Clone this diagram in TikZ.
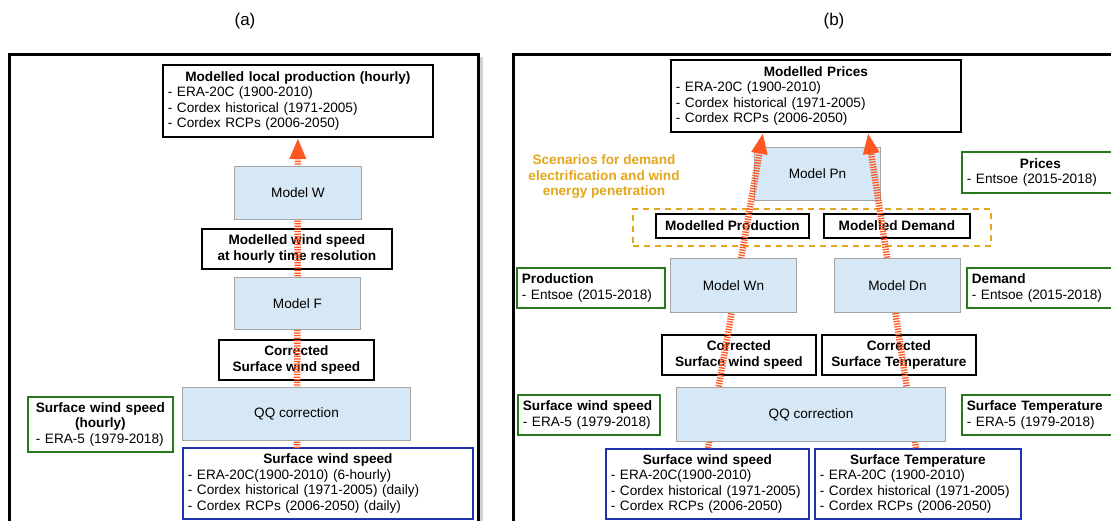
\documentclass[tikz,border=0pt]{standalone}
\usepackage{fontspec}
\setmainfont{Liberation Sans}
\usetikzlibrary{arrows.meta,shadows,calc}
\definecolor{lblue}{RGB}{214,231,245}
\definecolor{bgrey}{RGB}{165,165,165}
\definecolor{dgreen}{RGB}{40,120,30}
\definecolor{dblue}{RGB}{30,50,175}
\definecolor{gold}{RGB}{228,166,28}
\definecolor{flowc}{RGB}{255,87,34}
\newcommand\ttl[2]{\makebox[#1][c]{\bfseries #2}}
\begin{document}
\begin{tikzpicture}[x=1pt,y=-1pt,
 every node/.style={font=\fontsize{13.6}{15.5}\selectfont, inner sep=0pt, anchor=north west},
 frame/.style={draw=black, line width=3pt, fill=white, drop shadow={shadow xshift=4pt, shadow yshift=-3pt, opacity=0.35}},
 model/.style={draw=bgrey, line width=1pt, fill=lblue},
 lab/.style={draw=black, line width=1.8pt, align=center, font=\fontsize{13.6}{15.5}\selectfont\bfseries},
 obs/.style={draw=dgreen, line width=1.8pt, fill=white, align=left, inner xsep=5pt},
 sim/.style={draw=dblue, line width=1.8pt, fill=white, align=left, inner xsep=5pt},
 outb/.style={draw=black, line width=1.8pt, fill=white, align=left, inner xsep=5pt},
 flow/.style={draw=flowc, line width=6.5pt, dash pattern=on 1.3pt off 1.3pt, -{Triangle[length=21pt,width=15pt]}},
 ttlnode/.style={font=\fontsize{17}{20}\selectfont, anchor=center}
]
\useasboundingbox (0,0) rectangle (1111,520);
\fill[white] (0,0) rectangle (1111,520);
% titles
\node[ttlnode] (ta) at (245,21) {(a)};
\node[ttlnode] (tb) at (834,21) {(b)};
% frames
\path[frame] (9.5,54) rectangle (478.5,545);
\path[frame] (513.5,54) rectangle (1140,545);

% ---------- (a) ----------
\node[outb, text width=260pt, minimum height=72pt] (mlp) at (162,64)
 {\ttl{260pt}{Modelled local production (hourly)}\\- ERA-20C (1900-2010)\\- Cordex historical (1971-2005)\\- Cordex RCPs (2006-2050)};
\node[lab, minimum width=190pt, minimum height=40pt] (l1) at (201,228) {Modelled wind speed\\at hourly time resolution};
\node[lab, minimum width=155pt, minimum height=40pt] (l2) at (218,339) {Corrected\\Surface wind speed};
\node[obs, text width=135pt, minimum height=55pt] (oa) at (27,396)
 {\ttl{135pt}{Surface wind speed}\\\ttl{135pt}{(hourly)}\\\hspace*{3pt}- ERA-5 (1979-2018)};
\node[sim, text width=280pt, minimum height=71pt] (sa) at (182,447)
 {\ttl{280pt}{Surface wind speed}\\- ERA-20C(1900-2010) (6-hourly)\\- Cordex historical (1971-2005) (daily)\\- Cordex RCPs (2006-2050) (daily)};

% ---------- (b) ----------
\node[outb, text width=280pt, minimum height=72pt] (mp) at (670,59)
 {\ttl{280pt}{Modelled Prices}\\- ERA-20C (1900-2010)\\- Cordex historical (1971-2005)\\- Cordex RCPs (2006-2050)};
\node[model, minimum width=126pt, minimum height=53pt] (pn) at (754,147) {Model Pn};
\node[anchor=center, align=center, text=gold, font=\fontsize{13.6}{15.5}\selectfont\bfseries] (sc) at (604,177)
 {Scenarios for demand\\electrification and wind\\energy penetration};
\node[obs, text width=147pt, minimum height=41pt] (op) at (961,151) {\ttl{147pt}{Prices}\\- Entsoe (2015-2018)};
\node[draw=gold, line width=2pt, dash pattern=on 6pt off 5pt, minimum width=358pt, minimum height=37pt] (scen) at (632,208) {};
\node[lab, minimum width=153pt, minimum height=24pt] (lp) at (655,213) {Modelled Production};
\node[lab, minimum width=146pt, minimum height=24pt] (ld) at (823,213) {Modelled Demand};
\node[obs, text width=138pt, minimum height=40pt] (oprod) at (516,267) {\textbf{Production}\\- Entsoe (2015-2018)};
\node[obs, text width=142pt, minimum height=40pt] (odem) at (966,267) {\textbf{Demand}\\- Entsoe (2015-2018)};
\node[lab, minimum width=154pt, minimum height=40pt] (cw) at (661,334) {Corrected\\Surface wind speed};
\node[lab, minimum width=154pt, minimum height=40pt] (ct) at (821,334) {Corrected\\Surface Temperature};
\node[obs, text width=132pt, minimum height=40pt] (osw) at (517,394) {\textbf{Surface wind speed}\\- ERA-5 (1979-2018)};
\node[obs, text width=147pt, minimum height=40pt] (ost) at (961,394) {\textbf{Surface Temperature}\\- ERA-5 (1979-2018)};
\node[sim, text width=193pt, minimum height=70pt] (sw) at (605,448)
 {\ttl{193pt}{Surface wind speed}\\- ERA-20C(1900-2010)\\- Cordex historical (1971-2005)\\- Cordex RCPs (2006-2050)};
\node[sim, text width=196pt, minimum height=70pt] (st) at (814,448)
 {\ttl{196pt}{Surface Temperature}\\- ERA-20C (1900-2010)\\- Cordex historical (1971-2005)\\- Cordex RCPs (2006-2050)};

% ---------- flows ----------
\coordinate (a0) at (297,448);
\draw[flow] (a0) -- (mlp.south);
\coordinate (bl0) at (708,448);
\coordinate (bl1) at ($(mp.south west)+(93,0)$);
\draw[flow] (bl0) -- (bl1);
\coordinate (br0) at (916,448);
\coordinate (br1) at ($(mp.south west)+(198,0)$);
\draw[flow] (br0) -- (br1);

% ---------- model boxes over the flows ----------
\node[model, minimum width=127pt, minimum height=53pt] (mw) at (234,166) {Model W};
\node[model, minimum width=126pt, minimum height=52pt] (mf) at (234,277) {Model F};
\node[model, minimum width=228pt, minimum height=53pt] (qqa) at (182,387) {QQ correction};
\node[model, minimum width=126pt, minimum height=54pt] (wn) at (670,258) {Model Wn};
\node[model, minimum width=126pt, minimum height=54pt] (dn) at (834,258) {Model Dn};
\node[model, minimum width=269pt, minimum height=54pt] (qqb) at (676,387) {QQ correction};
\end{tikzpicture}
\end{document}
